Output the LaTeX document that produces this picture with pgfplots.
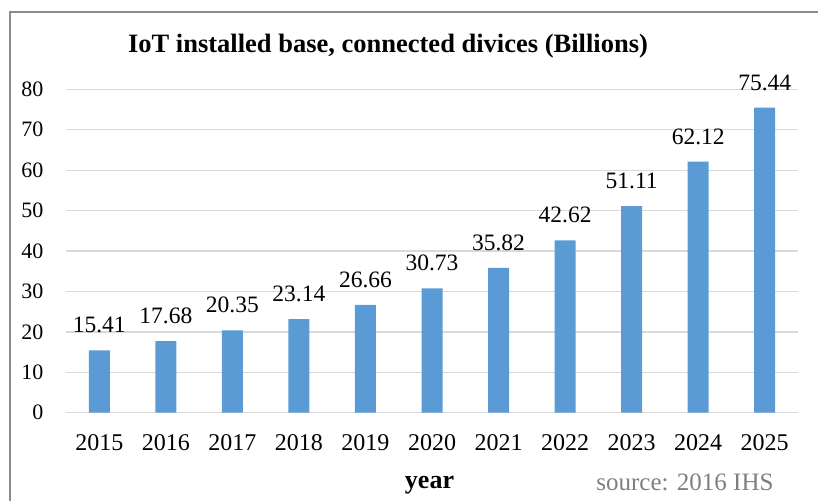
\documentclass[border=0pt]{standalone}
\usepackage{pgfplots}
\pgfplotsset{compat=1.18}
\usepackage{fontspec}
\setmainfont{Liberation Serif}
\definecolor{barblue}{HTML}{5B9BD5}
\definecolor{gridgray}{HTML}{D9D9D9}
\definecolor{framegray}{HTML}{8C8C8C}
\definecolor{srcgray}{HTML}{7F7F7F}
\begin{document}
\begin{tikzpicture}
\useasboundingbox (0pt,0pt) rectangle (818pt,500pt);
\draw[framegray, line width=1.5pt] (10pt,-5pt) -- (10pt,488pt) -- (830pt,488pt);
\begin{axis}[
  at={(66pt,87.3pt)}, anchor=south west,
  scale only axis, width=732pt, height=323.4pt,
  xmin=-0.5, xmax=10.5, ymin=0, ymax=80,
  ytick={0,10,...,80},
  xtick=data,
  xticklabels={2015,2016,2017,2018,2019,2020,2021,2022,2023,2024,2025},
  axis line style={draw=none},
  major tick length=0pt,
  ymajorgrids, grid style={gridgray, line width=1.3pt},
  /pgf/number format/assume math mode=true,
  yticklabel style={anchor=east, inner sep=0pt, xshift=-22.5pt, font=\fontsize{22}{24}\selectfont},
  xticklabel style={anchor=north, inner sep=0pt, yshift=-22pt, font=\fontsize{24}{26}\selectfont},
  clip=false,
]
\addplot[ybar, bar width=21pt, fill=barblue, draw=none,
  nodes near coords={\pgfmathprintnumber[fixed,fixed zerofill,precision=2,assume math mode=true]{\pgfplotspointmeta}},
  every node near coord/.append style={anchor=base, inner sep=0pt, yshift=17.5pt, font=\fontsize{23.5}{25}\selectfont, text=black},
] coordinates {
(0,15.41) (1,17.68) (2,20.35) (3,23.14) (4,26.66) (5,30.73)
(6,35.82) (7,42.62) (8,51.11) (9,62.12) (10,75.44)
};
\end{axis}
\node[font=\bfseries\fontsize{26.5}{28}\selectfont, anchor=base] at (388pt,447.7pt) {IoT installed base, connected divices (Billions)};
\node[font=\bfseries\fontsize{26}{28}\selectfont, anchor=base] at (429.5pt,11.7pt) {year};
\node[font=\fontsize{25}{27}\selectfont, text=srcgray, anchor=base east] at (777pt,10pt) {source: 2016 IHS};
\end{tikzpicture}
\end{document}
